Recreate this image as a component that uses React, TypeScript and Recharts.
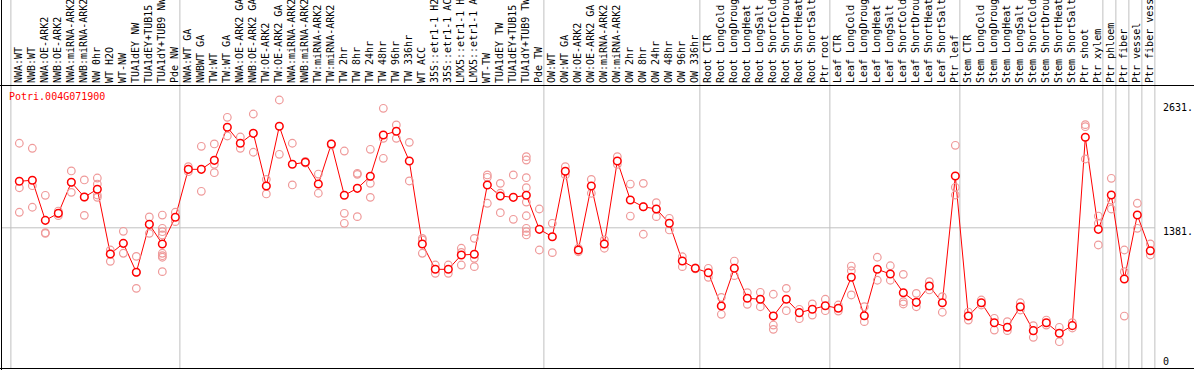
import React from "react";
import {
  ComposedChart,
  Line,
  Scatter,
  XAxis,
  YAxis,
  ReferenceLine,
} from "recharts";

const GENE = "Potri.004G071900";

const labels = [
  "NWA:WT", "NWB:WT", "NWA:OE-ARK2", "NWB:OE-ARK2", "NWA:miRNA-ARK2", "NWB:miRNA-ARK2",
  "NW 0hr", "WT H2O", "WT-NW", "TUA1dEY NW", "TUA1dEY+TUB15 NW", "TUA1dY+TUB9 NW", "Pde NW",
  "NWA:WT GA", "NWBWT GA", "TW:WT", "TW:WT GA", "NWA:OE-ARK2 GA", "NWB:OE-ARK2 GA",
  "TW:OE-ARK2", "TW:OE-ARK2 GA", "NWA:miRNA-ARK2 GA", "NWB:miRNA-ARK2 GA", "TW:miRNA-ARK2",
  "TW:miRNA-ARK2 GA", "TW 2hr", "TW 8hr", "TW 24hr", "TW 48hr", "TW 96hr", "TW 336hr",
  "WT ACC", "35S::etr1-1 H2O", "35S::etr1-1 ACC", "LMX5::etr1-1 H2O", "LMX5::etr1-1 ACC",
  "WT-TW", "TUA1dEY TW", "TUA1dEY+TUB15 TW", "TUA1dY+TUB9 TW", "Pde TW",
  "OW:WT", "OW:WT GA", "OW:OE-ARK2", "OW:OE-ARK2 GA", "OW:miRNA-ARK2", "OW:miRNA-ARK2 GA",
  "OW 2hr", "OW 8hr", "OW 24hr", "OW 48hr", "OW 96hr", "OW 336hr",
  "Root CTR", "Root LongCold", "Root LongDrought", "Root LongHeat", "Root LongSalt",
  "Root ShortCold", "Root ShortDrought", "Root ShortHeat", "Root ShortSalt", "Ptr root",
  "Leaf CTR", "Leaf LongCold", "Leaf LongDrought", "Leaf LongHeat", "Leaf LongSalt",
  "Leaf ShortCold", "Leaf ShortDrought", "Leaf ShortHeat", "Leaf ShortSalt", "Ptr leaf",
  "Stem CTR", "Stem LongCold", "Stem LongDrought", "Stem LongHeat", "Stem LongSalt",
  "Stem ShortCold", "Stem ShortDrought", "Stem ShortHeat", "Stem ShortSalt", "Ptr shoot",
  "Ptr xylem", "Ptr phloem", "Ptr fiber", "Ptr vessel", "Ptr fiber vessel",
];

const means = [
  1836, 1846, 1454, 1523, 1826, 1682, 1758, 1125, 1229, 946, 1415, 1223, 1484,
  1953, 1953, 2041, 2364, 2208, 2305, 1790, 2374, 2002, 2022, 1809, 2201, 1699, 1767,
  1885, 2289, 2325, 2034, 1223, 975, 975, 1115, 1122, 1800, 1692, 1679, 1699, 1366,
  1294, 1934, 1164, 1790, 1223, 2034, 1653, 1587, 1565, 1425, 1056, 985,
  942, 616, 985, 692, 682, 518, 682, 551, 584, 619,
  594, 897, 521, 975, 929, 746, 652, 812, 648, 1888,
  518, 648, 453, 408, 609, 375, 453, 349, 424, 2266, 1366,
  1702, 880, 1506, 1157,
];

const reps: number[][] = [
  [2208, 1773, 1533], [2159, 1793, 1582], [1699, 1333, 1327], [1545, 1523, 1500],
  [1937, 1728, 1826], [1849, 1503, 1682], [1868, 1809, 1702, 1679], [1164, 1053, 1125],
  [1347, 1132, 1229], [1102, 789, 946], [1487, 1327, 1415],
  [1506, 1376, 1343, 1311, 1132, 1108, 1093, 952], [1533, 1441],
  [1979, 1930], [2178, 1738], [2201, 2002, 1920], [2462, 2279], [2269, 2159],
  [2494, 2120], [1855, 1712], [2631, 2100], [2208, 1800], [2030, 2015], [1907, 1719],
  [2201, 2190], [2132, 1523, 1425], [1914, 1904, 1490], [2149, 1816, 1679],
  [2550, 2256, 2061], [2387, 2256], [2217, 1839], [1278, 1262, 1132], [1017, 936],
  [1017, 936], [1181, 1140, 1017], [1278, 1083, 1001], [1898, 1875, 1621],
  [1816, 1719, 1529], [1898, 1464], [2077, 2044, 1871, 1773, 1633, 1499, 1376, 1343, 1311],
  [1565, 1164],
  [1425, 1138], [1979, 1898], [1181, 1147], [1855, 1719], [1262, 1181], [2077, 2002],
  [1809, 1496], [1816, 1587, 1318], [1627, 1490], [1474, 1360], [1098, 1001], [990, 980],
  [985, 897], [701, 535], [1056, 913], [746, 633], [750, 609], [731, 430, 388],
  [789, 570], [584, 492], [636, 528], [682, 570],
  [626, 567], [1007, 961, 724], [609, 463], [1093, 868], [1010, 868], [926, 658, 636],
  [740, 609], [854, 773], [707, 555], [2188, 1777, 1702],
  [557, 479], [675, 626], [496, 381], [463, 375], [648, 577], [424, 310], [479, 430],
  [408, 267], [453, 401], [2390, 2370, 2054], [1496, 1425, 1213],
  [1865, 1653, 1565], [1164, 952, 518], [1621, 1376], [1223, 1115],
];

// index of first column in each group, plus the end
const groupStarts = [0, 13, 41, 53, 63, 73, 84, 85, 86, 87, 88];

const yTicks = [0, 1381, 2631];
const yTickLabels = ["0", "1381.", "2631."];

const rows = labels.map((label, i) => ({ idx: i, label, mean: means[i] }));
const repPoints = reps.flatMap((arr, i) => arr.map((v) => ({ idx: i, rep: v })));

const FONT = "'DejaVu Sans Mono', monospace";

function CategoryTick(props: any) {
  const { x, payload } = props;
  return (
    <text
      transform={`translate(${x + 2.7},83) rotate(-90)`}
      fontSize={10}
      fontFamily={FONT}
      fill="#000"
      textAnchor="start"
    >
      {labels[payload.value]}
    </text>
  );
}

function ValueTick(props: any) {
  const { x, y, payload } = props;
  const i = yTicks.indexOf(payload.value);
  const dy = i === 0 ? -4 : i === yTicks.length - 1 ? 11 : 7;
  return (
    <text x={x} y={y + dy} fontSize={10} fontFamily={FONT} fill="#000" textAnchor="start">
      {yTickLabels[i]}
    </text>
  );
}

const RepDot = (props: any) => (
  <circle cx={props.cx} cy={props.cy} r={3.8} fill="none" stroke="#ef9a9a" strokeWidth={1.2} />
);

export default function App() {
  return (
    <div style={{ position: "absolute", left: 0, top: 0, width: 1194, height: 370, background: "#fff" }}>
      <ComposedChart
        width={1194}
        height={370}
        data={rows}
        margin={{ top: 0, right: 0, bottom: 1, left: 1 }}
      >
        <XAxis
          type="number"
          dataKey="idx"
          orientation="top"
          height={86}
          domain={[-1.41, 87.36]}
          ticks={rows.map((r) => r.idx)}
          interval={0}
          tick={<CategoryTick />}
          tickLine={false}
          axisLine={false}
          allowDataOverflow
        />
        <YAxis
          orientation="right"
          width={39}
          domain={[0, 2768]}
          ticks={yTicks}
          interval={0}
          tick={<ValueTick />}
          tickLine={false}
          axisLine={false}
          allowDataOverflow
        />
        {groupStarts.map((k) => (
          <ReferenceLine
            key={k}
            segment={[
              { x: k - 0.65, y: 0 },
              { x: k - 0.65, y: 3700 },
            ]}
            stroke="#c0c0c0"
            strokeWidth={1}
            ifOverflow="visible"
          />
        ))}
        <ReferenceLine y={1381} stroke="#c0c0c0" strokeWidth={1} />
        <Scatter data={repPoints} dataKey="rep" shape={RepDot} isAnimationActive={false} />
        <Line
          type="linear"
          dataKey="mean"
          stroke="#ff0000"
          strokeWidth={1}
          dot={{ r: 3.8, stroke: "#ff0000", strokeWidth: 1.5, fill: "#fff" }}
          activeDot={false}
          isAnimationActive={false}
        />
      </ComposedChart>
      <svg
        width={1194}
        height={370}
        style={{ position: "absolute", left: 0, top: 0, pointerEvents: "none" }}
      >
        <line x1={1.5} y1={0} x2={1.5} y2={370} stroke="#000" strokeWidth={1} />
        <line x1={0} y1={85.5} x2={1194} y2={85.5} stroke="#000" strokeWidth={1} />
        <line x1={0} y1={368.5} x2={1194} y2={368.5} stroke="#000" strokeWidth={1} />
        <text x={9} y={100} fontSize={10} fontFamily={FONT} fill="#ff0000">
          {GENE}
        </text>
      </svg>
    </div>
  );
}
